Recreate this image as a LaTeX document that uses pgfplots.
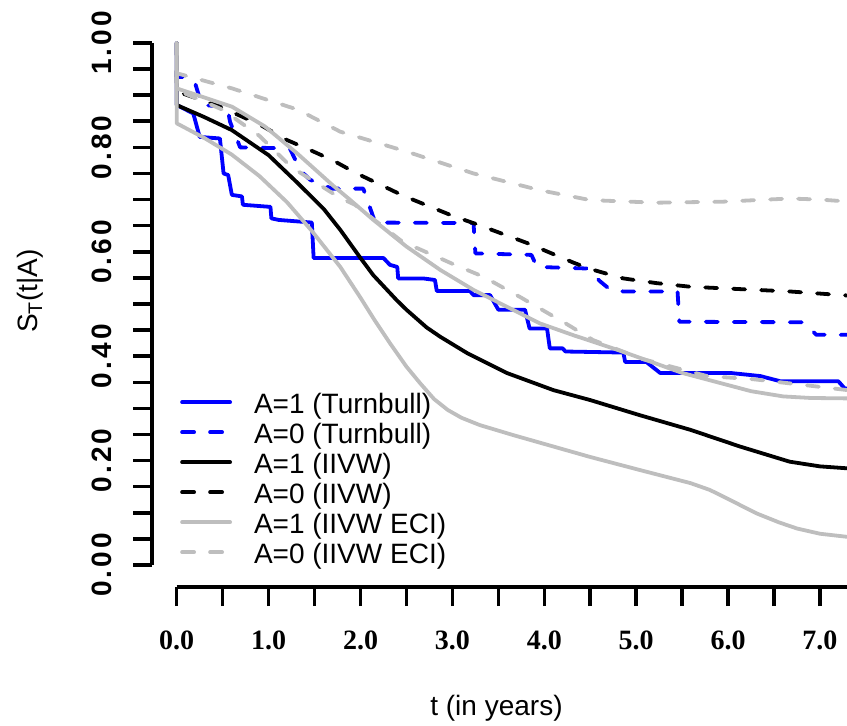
\documentclass[border=0pt]{standalone}
\usepackage{pgfplots}
\pgfplotsset{compat=1.18}
\usepackage{fontspec}
\setmainfont{Liberation Sans}
\newfontfamily\serifface{Liberation Serif}
\newfontfamily\ytickface{Liberation Sans}[LetterSpace=11]
\definecolor{rgray}{RGB}{190,190,190}
\definecolor{rblue}{RGB}{0,0,255}
\tikzset{rline/.style={line width=3.8pt, line cap=round, line join=round},
         rdash/.style={dash pattern=on 12pt off 16pt}}
\begin{document}
\begin{tikzpicture}
\useasboundingbox (0,0) rectangle (847pt,726pt);
\clip (0,0) rectangle (847pt,726pt);
\begin{axis}[
  at={(152pt,139pt)}, anchor=south west,
  scale only axis, width=695pt, height=566pt,
  xmin=-0.269, xmax=7.294, ymin=-0.042, ymax=1.042,
  clip=false,
  axis x line*=bottom, axis y line*=left,
  axis line style={draw=none},
  tick align=outside,
  major tick length=19pt, minor tick length=19pt,
  tick style={black, line width=3.5pt},
  xtick={0,1,2,3,4,5,6,7},
  minor xtick={0.5,1.5,2.5,3.5,4.5,5.5,6.5},
  ytick={0,0.2,0.4,0.6,0.8,1.0},
  minor ytick={0.05,0.1,0.15,0.25,0.3,0.35,0.45,0.5,0.55,0.65,0.7,0.75,0.85,0.9,0.95},
  yticklabel style={rotate=90, anchor=south, inner sep=0pt,
    font=\ytickface\bfseries\fontsize{28}{28}\selectfont,
    /pgf/number format/.cd, fixed, fixed zerofill, precision=2, assume math mode=true},
  xticklabel style={anchor=north, inner sep=0pt,
    font=\serifface\bfseries\fontsize{28}{28}\selectfont,
    /pgf/number format/.cd, fixed, fixed zerofill, precision=1, assume math mode=true},
  yticklabel shift=21pt,
  xticklabel shift=25pt,
  xlabel={t (in years)},
  xlabel style={at={(axis description cs:0.4957,-0.2140)}, anchor=center, inner sep=0pt,
    font=\fontsize{28}{28}\selectfont},
  ylabel={S\textsubscript{T}(t|A)},
  ylabel style={at={(axis description cs:-0.1755,0.523)}, anchor=center, rotate=0, inner sep=0pt,
    font=\fontsize{28}{28}\selectfont},
  legend cell align=left,
  legend image code/.code={\draw[#1] (0pt,5pt) -- (48pt,5pt);},
  legend style={draw=none, fill=none, at={(axis description cs:0.0403,0.3445)},
    anchor=north west, inner sep=0pt, row sep=0pt, column sep=22pt,
    font=\fontsize{28}{28}\selectfont,
    nodes={inner sep=0pt, text height=21pt, text depth=9pt}},
]
% A=1 (Turnbull)
\addplot[rblue, rline] coordinates {(0,1)(0,0.881)(0.18,0.865)(0.25,0.820)(0.47,0.817)(0.51,0.750)(0.56,0.747)(0.60,0.709)(0.71,0.706)(0.72,0.690)(1.02,0.686)(1.03,0.664)(1.11,0.661)(1.47,0.656)(1.49,0.588)(2.25,0.588)(2.32,0.575)(2.40,0.571)(2.41,0.549)(2.68,0.549)(2.81,0.546)(2.83,0.525)(3.19,0.525)(3.23,0.517)(3.41,0.517)(3.50,0.489)(3.79,0.489)(3.84,0.453)(4.03,0.453)(4.06,0.415)(4.20,0.415)(4.23,0.409)(4.86,0.407)(4.88,0.389)(5.11,0.389)(5.26,0.368)(6.02,0.368)(6.35,0.362)(6.57,0.352)(7.20,0.352)(7.27,0.338)(7.40,0.338)};
\addlegendentry{A=1 (Turnbull)}
% A=0 (Turnbull)
\addplot[rblue, rline, rdash] coordinates {(0,1)(0,0.935)(0.11,0.935)(0.20,0.923)(0.24,0.900)(0.27,0.881)(0.55,0.878)(0.58,0.849)(0.69,0.800)(1.23,0.798)(1.35,0.755)(1.45,0.738)(1.60,0.727)(1.69,0.721)(2.03,0.721)(2.16,0.656)(3.23,0.655)(3.25,0.597)(3.86,0.594)(3.92,0.571)(4.46,0.568)(4.61,0.543)(4.72,0.527)(4.86,0.524)(5.45,0.524)(5.47,0.466)(6.82,0.465)(6.96,0.441)(7.40,0.441)};
\addlegendentry{A=0 (Turnbull)}
% A=1 (IIVW)
\addplot[black, rline] coordinates {(0,1)(0,0.881)(0.3,0.858)(0.6,0.833)(1.0,0.785)(1.32,0.731)(1.6,0.682)(1.78,0.642)(2.0,0.588)(2.14,0.555)(2.39,0.508)(2.5,0.489)(2.72,0.455)(2.87,0.437)(3.16,0.406)(3.59,0.368)(4.1,0.335)(4.5,0.316)(5.04,0.287)(5.59,0.259)(6.13,0.227)(6.67,0.198)(7.0,0.189)(7.4,0.184)};
\addlegendentry{A=1 (IIVW)}
% A=0 (IIVW)
\addplot[black, rline, rdash] coordinates {(0,1)(0,0.907)(0.2,0.895)(0.47,0.878)(0.91,0.843)(1.2,0.814)(1.45,0.795)(1.7,0.775)(1.96,0.750)(2.47,0.707)(3.0,0.669)(3.26,0.653)(3.81,0.617)(4.32,0.579)(4.5,0.567)(4.86,0.549)(5.22,0.540)(5.59,0.533)(5.95,0.530)(6.67,0.524)(7.4,0.515)};
\addlegendentry{A=0 (IIVW)}
% A=1 (IIVW ECI) lower
\addplot[rgray, rline] coordinates {(0,1)(0,0.846)(0.3,0.818)(0.6,0.786)(0.9,0.745)(1.2,0.695)(1.47,0.640)(1.78,0.571)(2.0,0.512)(2.15,0.470)(2.32,0.425)(2.5,0.380)(2.65,0.348)(2.8,0.318)(2.95,0.297)(3.1,0.282)(3.3,0.268)(3.66,0.249)(4.1,0.227)(4.5,0.207)(5.04,0.182)(5.59,0.157)(5.8,0.144)(5.95,0.131)(6.31,0.099)(6.55,0.082)(6.75,0.070)(7.0,0.060)(7.4,0.052)};
\addlegendentry{A=1 (IIVW ECI)}
% A=0 (IIVW ECI) upper
\addplot[rgray, rline, rdash] coordinates {(0,1)(0,0.942)(0.6,0.913)(1.32,0.872)(1.78,0.83)(2.5,0.792)(3.23,0.75)(3.95,0.718)(4.5,0.699)(5.22,0.694)(5.95,0.696)(6.67,0.702)(7.0,0.700)(7.4,0.695)};
\addlegendentry{A=0 (IIVW ECI)}
% A=1 (IIVW ECI) upper
\addplot[rgray, rline, forget plot] coordinates {(0,1)(0,0.913)(0.6,0.878)(0.96,0.840)(1.32,0.787)(1.7,0.727)(1.89,0.699)(2.14,0.661)(2.5,0.610)(2.87,0.565)(3.23,0.527)(3.59,0.495)(3.95,0.463)(4.32,0.440)(4.8,0.412)(5.5,0.368)(5.95,0.347)(6.25,0.333)(6.6,0.323)(6.9,0.320)(7.4,0.319)};
% A=0 (IIVW ECI) lower
\addplot[rgray, rline, rdash, forget plot] coordinates {(0,1)(0,0.91)(0.5,0.872)(0.9,0.822)(1.25,0.762)(1.77,0.704)(1.94,0.690)(2.48,0.616)(2.63,0.606)(3.0,0.577)(3.34,0.552)(3.74,0.513)(4.24,0.462)(4.53,0.431)(5.06,0.395)(5.77,0.362)(6.27,0.356)(6.82,0.345)(7.4,0.333)};
% axis lines (R style)
\draw[black, line width=4pt] (axis cs:-0.269,0) -- (axis cs:-0.269,1);
\draw[black, line width=4pt] (axis cs:0,-0.042) -- (axis cs:7.6,-0.042);
\end{axis}
\end{tikzpicture}
\end{document}
